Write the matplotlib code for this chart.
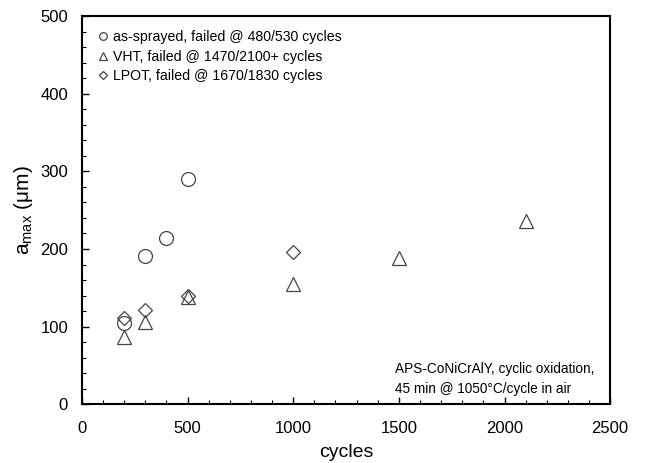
import matplotlib
matplotlib.use("Agg")
import matplotlib.pyplot as plt
from matplotlib.ticker import MultipleLocator

plt.rcParams['font.family'] = ['Liberation Sans', 'DejaVu Sans']

as_x = [200, 300, 400, 500]
as_y = [105, 191, 214, 290]
vht_x = [200, 300, 500, 1000, 1500, 2100]
vht_y = [87, 106, 138, 155, 189, 236]
lpot_x = [200, 300, 500, 1000]
lpot_y = [111, 122, 139, 196]

labels = ["as-sprayed, failed @ 480/530 cycles",
          "VHT, failed @ 1470/2100+ cycles",
          "LPOT, failed @ 1670/1830 cycles"]

fig = plt.figure(figsize=(6.45, 4.63), dpi=100)
ax = fig.add_axes([0.127, 0.127, 0.819, 0.838])

ec = '#444444'
mk = dict(linestyle='none', markerfacecolor='none', markeredgecolor=ec,
          markeredgewidth=0.9, markersize=10)
ax.plot(as_x, as_y, marker='o', label=labels[0], **mk)
ax.plot(vht_x, vht_y, marker='^', label=labels[1], **mk)
ax.plot(lpot_x, lpot_y, marker='D', label=labels[2], **{**mk, 'markersize': 7.5})

ax.set_xlim(0, 2500)
ax.set_ylim(0, 500)
ax.xaxis.set_major_locator(MultipleLocator(500))
ax.xaxis.set_minor_locator(MultipleLocator(100))
ax.yaxis.set_major_locator(MultipleLocator(100))
ax.yaxis.set_minor_locator(MultipleLocator(20))
ax.tick_params(which='both', direction='in', top=False, right=False, labelsize=12)
ax.tick_params(which='major', length=5, width=1)
ax.tick_params(which='minor', length=3, width=0.8)
ax.tick_params(axis='x', pad=12)
ax.tick_params(axis='y', pad=10)
for s in ax.spines.values():
    s.set_linewidth(1.5)

ax.set_xlabel("cycles", fontsize=14, labelpad=6)
ax.set_ylabel(r"a$_{\mathregular{max}}$ ($\mathregular{\mu}$m)", fontsize=15, labelpad=4)

leg = ax.legend(loc='upper left', frameon=False, fontsize=10.2, handletextpad=0.2,
                markerscale=0.55, borderaxespad=0.5, labelspacing=0.38, handlelength=1.0,
                borderpad=0.5)

ax.text(0.593, 0.022, "APS-CoNiCrAlY, cyclic oxidation,\n45 min @ 1050°C/cycle in air",
        transform=ax.transAxes, fontsize=9.8, ha='left', va='bottom', linespacing=1.55)

fig.savefig("out.png", dpi=100)
